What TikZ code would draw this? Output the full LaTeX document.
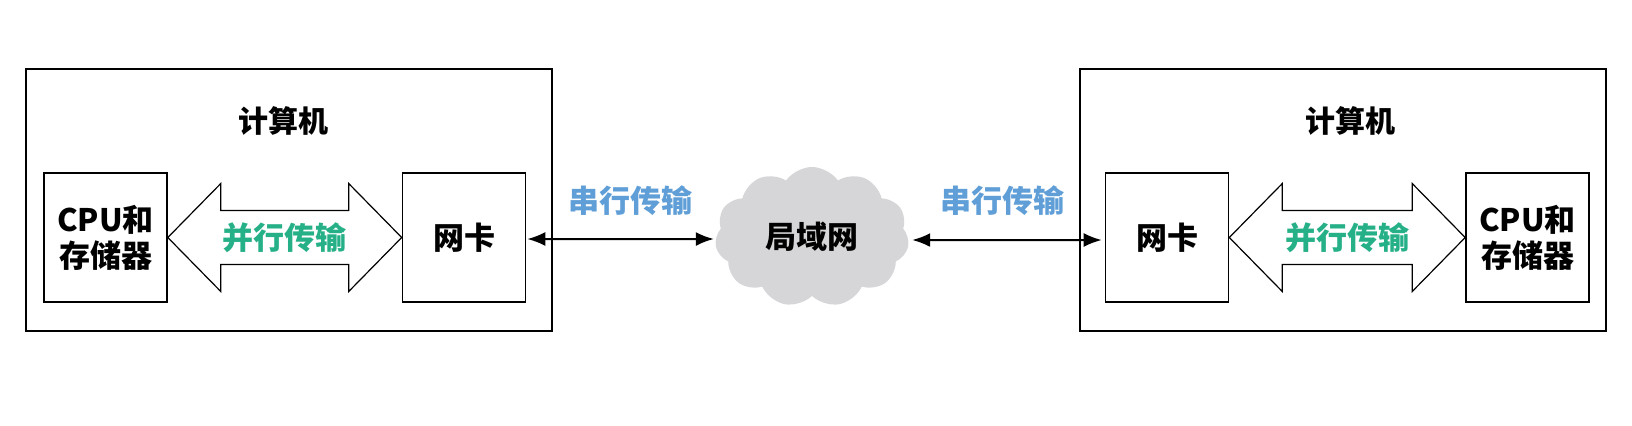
\documentclass[tikz,border=0pt]{standalone}
\usepackage{fontspec}
\newfontfamily\cjk{Noto Sans CJK SC}
\usetikzlibrary{shapes.symbols,arrows.meta,calc}
\definecolor{pgreen}{RGB}{38,176,136}
\definecolor{sblue}{RGB}{95,158,215}
\definecolor{cloudgray}{RGB}{214,214,217}
\tikzset{
  outerbox/.style={draw, line width=0.8pt, minimum width=263pt, minimum height=131pt, inner sep=0pt},
  innerbox/.style={draw, line width=0.8pt, minimum width=61.5pt, minimum height=64.5pt, inner sep=0pt, align=center, font=\cjk\bfseries\fontsize{15.5}{18}\selectfont},
  title/.style={inner sep=0pt, font=\cjk\bfseries\fontsize{15}{18}\selectfont},
  plabel/.style={inner sep=0pt, text=pgreen, font=\cjk\bfseries\fontsize{15.5}{18}\selectfont},
  slabel/.style={inner sep=0pt, text=sblue, font=\cjk\bfseries\fontsize{15.5}{18}\selectfont},
  parr/.style={draw, line width=0.6pt, fill=white, line join=miter},
  sarr/.style={line width=1pt, {Latex[length=9pt,width=7pt]}-{Latex[length=9pt,width=7pt]}},
  lan/.style={cloud, cloud puffs=11, cloud puff arc=110, aspect=1.4, fill=cloudgray, minimum width=97pt, minimum height=70pt, inner sep=0pt, font=\cjk\bfseries\fontsize{15.5}{18}\selectfont}
}
\newcommand{\dblarrow}[3]{%
  \draw[parr] (#1) -- ($(#1)+(53,-54)$) -- ($(#1)+(53,-27)$) -- ($(#2)+(-53,-27)$) -- ($(#2)+(-53,-54)$) -- (#2)
    -- ($(#2)+(-53,54)$) -- ($(#2)+(-53,27)$) -- ($(#1)+(53,27)$) -- ($(#1)+(53,54)$) -- cycle;
  \node[plabel] (#3) at ($(#1)!0.5!(#2)$) {并行传输};
}
\begin{document}
\begin{tikzpicture}[x=0.5pt,y=-0.5pt]
\useasboundingbox[fill=white] (0,0) rectangle (1632,425);
% left computer
\node[outerbox] (outL) at (289,200) {};
\node[title] (titleL) at (283,121) {计算机};
\node[innerbox] (cpuL) at (105.5,237.5) {CPU和\\存储器};
\node[innerbox] (nicL) at (464,237.5) {网卡};
\dblarrow{cpuL.east}{nicL.west}{parL}
% right computer
\node[outerbox] (outR) at (1343,200) {};
\node[title] (titleR) at (1350,121) {计算机};
\node[innerbox] (nicR) at (1167,237.5) {网卡};
\node[innerbox] (cpuR) at (1527.5,237.5) {CPU和\\存储器};
\dblarrow{nicR.east}{cpuR.west}{parR}
% LAN
\node[lan] (lan) at (812,237) {局域网};
\draw[sarr] ($(nicL.east)+(1,1.5)$) -- ($(lan.west)+(-2,2)$);
\draw[sarr] ($(lan.east)+(4,3)$) -- ($(nicR.west)+(-3,2.5)$);
\node[slabel] (serL) at (630,201) {串行传输};
\node[slabel] (serR) at (1002,201) {串行传输};
\end{tikzpicture}
\end{document}
